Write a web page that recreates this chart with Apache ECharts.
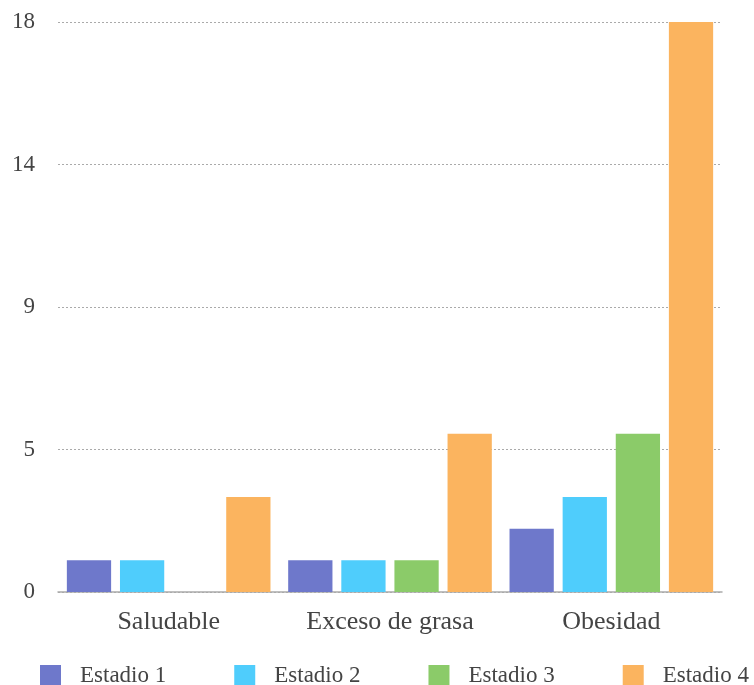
<!DOCTYPE html>
<html>
<head>
<meta charset="utf-8">
<script src="https://cdn.jsdelivr.net/npm/echarts@6/dist/echarts.min.js"></script>
<style>
  html, body { margin: 0; padding: 0; background: #fff; }
  #chart { width: 754px; height: 685px; }
</style>
</head>
<body>
<div id="chart"></div>
<script>
const categories = ['Saludable', 'Exceso de grasa', 'Obesidad']
const seriesNames = ['Estadio 1', 'Estadio 2', 'Estadio 3', 'Estadio 4']
const estadio1 = [1, 1, 2]
const estadio2 = [1, 1, 3]
const estadio3 = [0, 1, 5]
const estadio4 = [3, 5, 18]
const colors = ['#6e78cb', '#4fcdfc', '#8bcb69', '#fbb45f']

const values = [estadio1, estadio2, estadio3, estadio4]
const font = '"Liberation Serif", "DejaVu Serif", serif'

const chart = echarts.init(document.getElementById('chart'))
chart.setOption({
  animation: false,
  textStyle: { fontFamily: font },
  grid: { left: 58, right: 32, top: 22, bottom: 93, containLabel: false },
  legend: {
    left: 40,
    top: 664,
    padding: 0,
    itemWidth: 21,
    itemHeight: 21,
    itemGap: 68,
    icon: 'rect',
    textStyle: { fontFamily: font, fontSize: 23, color: '#444', padding: [0, 0, 0, 14] },
    data: seriesNames
  },
  xAxis: {
    type: 'category',
    data: categories,
    axisTick: { show: false },
    axisLine: { lineStyle: { color: '#aaa', width: 1.5 } },
    axisLabel: { fontFamily: font, fontSize: 26, color: '#444', margin: 17 }
  },
  yAxis: {
    type: 'value',
    min: 0,
    max: 18,
    interval: 4.5,
    axisLine: { show: false },
    axisTick: { show: false },
    axisLabel: {
      fontFamily: font, fontSize: 23, color: '#444', margin: 23,
      formatter: v => String(Math.round(v))
    },
    splitLine: { lineStyle: { color: '#aaa', type: [2, 2] } }
  },
  series: seriesNames.map((name, i) => ({
    name,
    type: 'bar',
    data: values[i],
    barGap: '20%',
    barCategoryGap: '8%',
    itemStyle: { color: colors[i] }
  }))
})
</script>
</body>
</html>
